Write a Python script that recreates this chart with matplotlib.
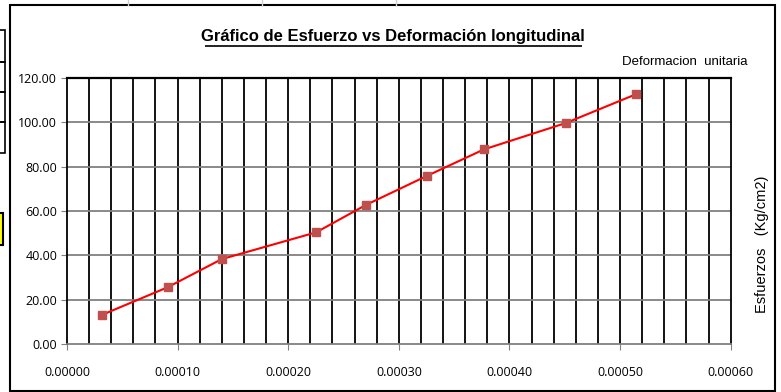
import matplotlib
matplotlib.use('Agg')
import matplotlib.pyplot as plt
from matplotlib.patches import Rectangle
from matplotlib import font_manager
import numpy as np

# data
deformacion = [0.0000319, 0.0000910, 0.0001399, 0.0002254, 0.0002701,
               0.0003252, 0.0003770, 0.0004510, 0.0005140]
esfuerzo = [13.2, 25.6, 38.3, 50.4, 62.7, 75.8, 87.8, 99.7, 112.6]

x_ticks = [0.0, 0.0001, 0.0002, 0.0003, 0.0004, 0.0005, 0.0006]
y_ticks = [0, 20, 40, 60, 80, 100, 120]

title = 'Gráfico de Esfuerzo vs Deformación longitudinal'
x_label = 'Deformacion  unitaria'
y_label = 'Esfuerzos   (Kg/cm2)'

tick_font = ['Open Sans', 'DejaVu Sans']

# look for a condensed face, fall back to a plain sans
names = set(f.name for f in font_manager.fontManager.ttflist)
narrow = [n for n in ['Liberation Sans Narrow', 'DejaVu Sans Condensed'] if n in names]
narrow = narrow + ['Liberation Sans', 'DejaVu Sans']

fig = plt.figure(figsize=(7.81, 3.92), dpi=100)

# spreadsheet bits behind the chart
for xc in [128, 262, 396]:
    fig.add_artist(plt.Line2D([xc / 781, xc / 781], [1, 1 - 5 / 392],
                              transform=fig.transFigure, color='#d0d0d0', lw=1))
for y0, y1 in [(30, 62), (62, 92), (92, 122), (122, 153)]:
    fig.add_artist(Rectangle((-0.01, 1 - y1 / 392), 0.016, (y1 - y0) / 392,
                             transform=fig.transFigure, fill=False,
                             edgecolor='black', lw=1.2))
fig.add_artist(Rectangle((-0.01, 1 - 245 / 392), 0.014, 32 / 392,
                         transform=fig.transFigure, facecolor='#ffff00',
                         edgecolor='black', lw=1.5))

# chart border
fig.add_artist(Rectangle((10 / 781, 1 - 391 / 392), 765 / 781, 386 / 392,
                         transform=fig.transFigure, fill=False,
                         edgecolor='black', lw=1.5))

ax = fig.add_axes([67 / 781, 48 / 392, 663.7 / 781, 266 / 392])

ax.set_xlim(0, 0.0006)
ax.set_ylim(0, 120)

# grid: black verticals every 0.00002, gray horizontals every 20
for xv in np.arange(0.00002, 0.0006, 0.00002):
    ax.axvline(xv, color='black', lw=1.3, zorder=1)
for yv in y_ticks[1:-1]:
    ax.axhline(yv, color='#808080', lw=1.3, zorder=1)

ax.plot(deformacion, esfuerzo, color='#ff0000', lw=1.5, zorder=3)
ax.plot(deformacion, esfuerzo, 's', color='#c0504d', ms=5.5, zorder=4)

ax.set_xticks(x_ticks)
ax.set_xticklabels(['%.5f' % v for v in x_ticks], family=tick_font, fontsize=9)
ax.set_yticks(y_ticks)
ax.set_yticklabels(['%.2f' % v for v in y_ticks], family=tick_font, fontsize=9)
ax.tick_params(axis='x', length=4, color='#808080', pad=12)
ax.tick_params(axis='y', length=4, color='#808080', pad=3)

ax.spines['top'].set_color('black')
ax.spines['top'].set_linewidth(1.6)
ax.spines['right'].set_color('black')
ax.spines['right'].set_linewidth(1.3)
ax.spines['left'].set_color('black')
ax.spines['left'].set_linewidth(1.3)
ax.spines['bottom'].set_color('#808080')
ax.spines['bottom'].set_linewidth(1.3)

fig.text(393 / 781, 1 - 36 / 392, title, ha='center', va='center',
         family=narrow, fontsize=12, fontweight='bold')
# underline for title
fig.add_artist(plt.Line2D([206 / 781, 581 / 781], [1 - 46 / 392, 1 - 46 / 392],
                          transform=fig.transFigure, color='#222222', lw=1.4))

fig.text(747 / 781, 1 - 62 / 392, x_label, ha='right', va='center',
         family=narrow, fontsize=9.5)
fig.text(762 / 781, 1 - 244 / 392, y_label, ha='center', va='center',
         rotation=90, family=['Liberation Sans', 'DejaVu Sans'], fontsize=10.5)

fig.savefig('out.png', dpi=100)
